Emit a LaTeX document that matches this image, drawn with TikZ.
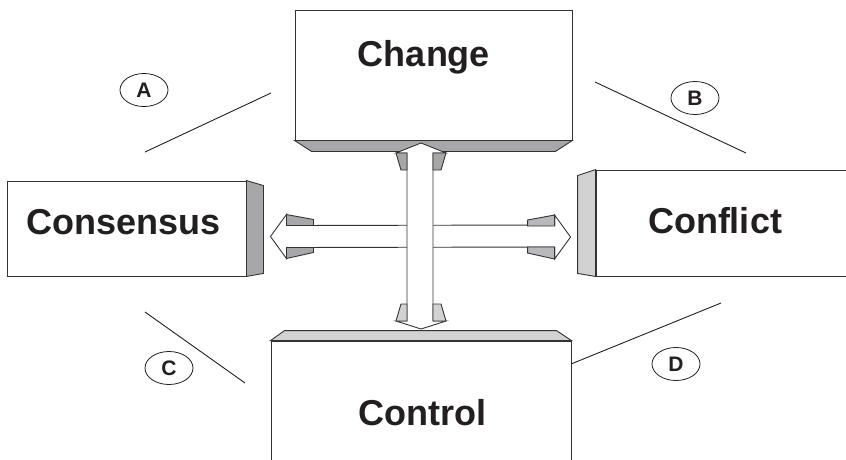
\documentclass[tikz,border=0pt]{standalone}
\usepackage{fontspec}
\setmainfont{Liberation Sans}
\usetikzlibrary{positioning,calc,shapes.geometric}
\definecolor{ink}{HTML}{231F20}
\definecolor{edge}{HTML}{333333}
\definecolor{darkside}{HTML}{A7A7A9}
\definecolor{midside}{HTML}{B9B9BB}
\definecolor{lightside}{HTML}{D2D2D3}
\tikzstyle{box} = [draw=edge, fill=white, rectangle, line width=0.9pt, inner sep=0pt]
\tikzstyle{bevel} = [draw=edge, line width=0.9pt]
\tikzstyle{title} = [text=ink, font=\fontsize{36}{40}\selectfont\bfseries, anchor=base]
\tikzstyle{tag} = [draw=ink, ellipse, line width=0.8pt, minimum width=48pt, minimum height=33pt, inner sep=0pt, text=ink, font=\fontsize{21}{24}\selectfont\bfseries]
\tikzstyle{link} = [draw=ink, line width=0.9pt]
\tikzstyle{shaft} = [draw=edge, fill=white, line width=0.9pt, line join=miter]

\begin{document}
\begin{tikzpicture}[x=1pt, y=-1pt]
        \useasboundingbox (0,0) rectangle (846,459);
        \clip (0,0) rectangle (846,459);

        % the four boxes
        \node [box, minimum width=277pt, minimum height=130pt] (change) at (433.5,75) {};
        \node [box, minimum width=239pt, minimum height=95pt] (consensus) at (126.5,228.5) {};
        \node [box, minimum width=260pt, minimum height=106pt] (conflict) at (726,223) {};
        \node [box, minimum width=300pt, minimum height=129pt] (control) at (421,405.5) {};

        % bevelled sides
        \draw[bevel, fill=darkside] (change.south west) -- (change.south east) -- ($(change.south east)+(-17,11)$) -- ($(change.south west)+(17,11)$) -- cycle;
        \draw[bevel, fill=darkside] (consensus.north east) -- ($(consensus.north east)+(17,5)$) -- ($(consensus.south east)+(17,-3)$) -- (consensus.south east) -- cycle;
        \draw[bevel, fill=lightside] (conflict.north west) -- ($(conflict.north west)+(-18,6)$) -- ($(conflict.south west)+(-18,-3)$) -- (conflict.south west) -- cycle;
        \draw[bevel, fill=lightside] (control.north west) -- ($(control.north west)+(14,-10)$) -- ($(control.north east)+(-15,-10)$) -- (control.north east) -- cycle;

        % labels
        \node [title] (changetxt) at (424,66) {Change};
        \node [title] (consensustxt) at (123.5,234) {Consensus};
        \node [title] (conflicttxt) at (715,233) {Conflict};
        \node [title] (controltxt) at (422.5,425) {Control};

        % horizontal double arrow
        \coordinate (hl) at ($(consensus.east)+(24,8)$);
        \coordinate (hr) at ($(conflict.west)+(-25,14)$);
        \draw[shaft] (hl) -- ++(16,-22) -- ++(0,11) -- ($(hr)+(-16,-12)$) -- ++(0,-10) -- (hr) -- ++(-16,22) -- ++(0,-12) -- ($(hl)+(16,11)$) -- ++(0,11) -- cycle;
        \draw[bevel, fill=darkside] ($(hl)+(16,-22)$) -- ++(27,5) -- ++(0,6) -- ++(-27,0) -- cycle;
        \draw[bevel, fill=darkside] ($(hl)+(16,11)$) -- ++(27,0) -- ++(0,5) -- ++(-27,6) -- cycle;
        \draw[bevel, fill=midside] ($(hr)+(-16,-22)$) -- ++(-27,5) -- ++(0,6) -- ++(27,0) -- cycle;
        \draw[bevel, fill=midside] ($(hr)+(-16,10)$) -- ++(-27,0) -- ++(0,6) -- ++(27,6) -- cycle;

        % vertical double arrow
        \coordinate (vt) at (421,143);
        \coordinate (vb) at (421,329);
        \draw[shaft] (vt) -- ++(25,10) -- ++(-13,0) -- ($(vb)+(12,-8)$) -- ++(13,0) -- (vb) -- ++(-25,-8) -- ++(11,0) -- ($(vt)+(-14,10)$) -- ++(-11,0) -- cycle;
        \draw[bevel, fill=darkside] ($(vt)+(-25,10)$) -- ++(11,0) -- ++(0,17) -- ++(-6,0) -- cycle;
        \draw[bevel, fill=darkside] ($(vt)+(25,10)$) -- ++(-13,0) -- ++(0,17) -- ++(8,0) -- cycle;
        \draw[bevel, fill=lightside] ($(vb)+(-25,-8)$) -- ++(11,0) -- ++(0,-17) -- ++(-6,0) -- cycle;
        \draw[bevel, fill=lightside] ($(vb)+(25,-8)$) -- ++(-13,0) -- ++(0,-17) -- ++(8,0) -- cycle;

        % tags and their lines
        \node [tag] (a) at (144,90) {A};
        \node [tag] (b) at (695,98) {B};
        \node [tag] (c) at (169,368) {C};
        \node [tag] (d) at (676,364) {D};

        \coordinate (a1) at (145,152);
        \coordinate (a2) at (271,93);
        \coordinate (b1) at (595,82);
        \coordinate (b2) at (746,153);
        \coordinate (c1) at (145,312);
        \coordinate (c2) at (245,383);
        \coordinate (d1) at (571,364);
        \coordinate (d2) at (721,303);
        \draw[link] (a1) -- (a2);
        \draw[link] (b1) -- (b2);
        \draw[link] (c1) -- (c2);
        \draw[link] (d1) -- (d2);
    \end{tikzpicture}
\end{document}
